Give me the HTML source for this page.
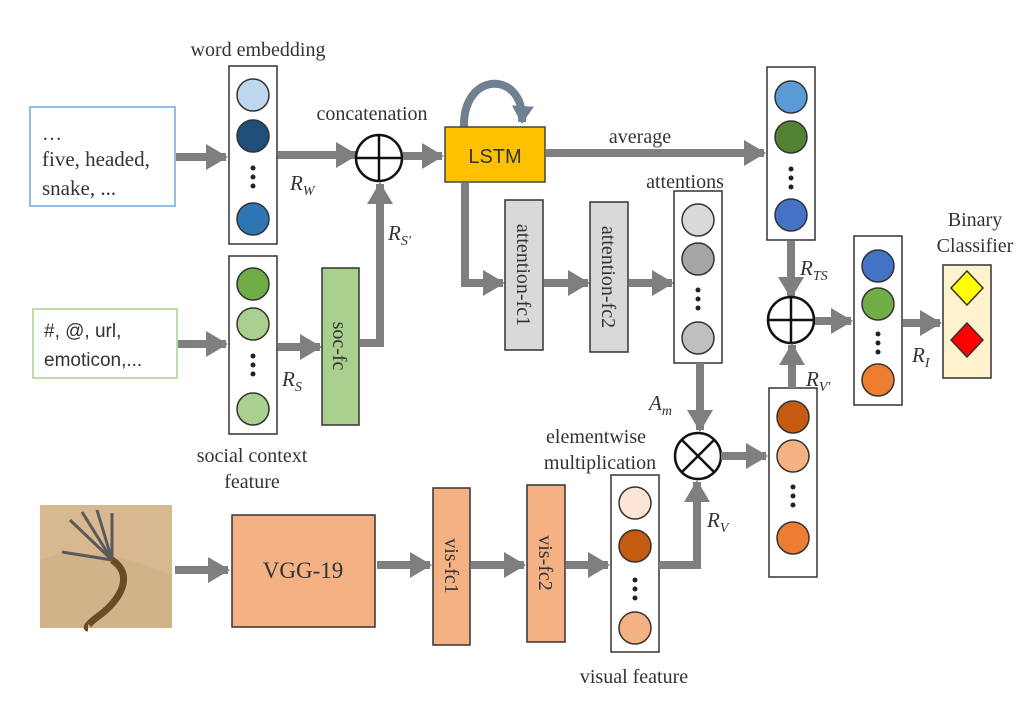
<!DOCTYPE html>
<html><head><meta charset="utf-8"><style>
html,body{margin:0;padding:0;background:#fff;}
svg{display:block;}
.s{font-family:"Liberation Serif",serif;fill:#333;}
.a{font-family:"Liberation Sans",sans-serif;fill:#333;}
.ar{stroke:#7f7f7f;stroke-width:8;fill:none;}
.c{stroke:#333;stroke-width:1.5;}
.box{fill:#fff;stroke:#333;stroke-width:1.5;}
</style></head><body>
<svg width="1030" height="718" viewBox="0 0 1030 718" xmlns="http://www.w3.org/2000/svg">
<defs>
<marker id="h" markerUnits="userSpaceOnUse" markerWidth="24" markerHeight="26" refX="20" refY="13" orient="auto">
<path d="M0,0 L22,13 L0,26 Z" fill="#7f7f7f"/></marker>
<marker id="hb" markerUnits="userSpaceOnUse" markerWidth="22" markerHeight="22" refX="16" refY="11" orient="auto">
<path d="M0,0 L18,11 L0,22 Z" fill="#6f8090"/></marker>
</defs>

<!-- input text boxes -->
<rect x="30" y="107" width="145" height="99" fill="#fff" stroke="#6fa8dc" stroke-width="1.5"/>
<text class="s" x="42" y="140" font-size="20">…</text>
<text class="s" x="42" y="166" font-size="21">five, headed,</text>
<text class="s" x="42" y="195" font-size="21">snake, ...</text>
<rect x="33" y="309" width="144" height="69" fill="#fff" stroke="#a9d08e" stroke-width="1.5"/>
<text class="a" x="44" y="337" font-size="19">#, @, url,</text>
<text class="a" x="44" y="366" font-size="19">emoticon,...</text>

<!-- word embedding -->
<text class="s" x="258" y="56" font-size="20" text-anchor="middle">word embedding</text>
<rect class="box" x="229" y="66" width="48" height="178"/>
<circle class="c" cx="253" cy="95" r="16" fill="#bdd7ee"/>
<circle class="c" cx="253" cy="136" r="16" fill="#1f4e79"/>
<circle cx="253" cy="168" r="2.5" fill="#222"/><circle cx="253" cy="177" r="2.5" fill="#222"/><circle cx="253" cy="186" r="2.5" fill="#222"/>
<circle class="c" cx="253" cy="219" r="16" fill="#2e75b6"/>

<!-- social column -->
<rect class="box" x="229" y="256" width="48" height="178"/>
<circle class="c" cx="253" cy="284" r="16" fill="#70ad47"/>
<circle class="c" cx="253" cy="324" r="16" fill="#a9d08e"/>
<circle cx="253" cy="356" r="2.5" fill="#222"/><circle cx="253" cy="365" r="2.5" fill="#222"/><circle cx="253" cy="374" r="2.5" fill="#222"/>
<circle class="c" cx="253" cy="409" r="16" fill="#a9d08e"/>
<text class="s" x="252" y="462" font-size="20" text-anchor="middle">social context</text>
<text class="s" x="252" y="488" font-size="20" text-anchor="middle">feature</text>

<!-- arrows left -->
<line class="ar" x1="176" y1="157" x2="226" y2="157" marker-end="url(#h)"/>
<line class="ar" x1="178" y1="344" x2="226" y2="344" marker-end="url(#h)"/>
<line class="ar" x1="278" y1="155" x2="356" y2="155" marker-end="url(#h)"/>
<line class="ar" x1="278" y1="347" x2="320" y2="347" marker-end="url(#h)"/>
<text class="s" x="290" y="190" font-size="21" font-style="italic">R<tspan font-size="14" dy="5">W</tspan></text>
<text class="s" x="282" y="386" font-size="21" font-style="italic">R<tspan font-size="14" dy="5">S</tspan></text>

<!-- soc-fc -->
<rect x="322" y="268" width="37" height="157" fill="#a9d08e" stroke="#333" stroke-width="1.5"/>
<text class="s" font-size="20" transform="translate(333,346) rotate(90)" text-anchor="middle">soc-fc</text>
<polyline class="ar" points="360,343 380,343 380,184" marker-end="url(#h)"/>
<text class="s" x="388" y="240" font-size="21" font-style="italic">R<tspan font-size="14" dy="5">S'</tspan></text>

<!-- concat -->
<text class="s" x="372" y="120" font-size="20" text-anchor="middle">concatenation</text>
<circle cx="379" cy="158" r="23" fill="#fff" stroke="#111" stroke-width="2.5"/>
<line x1="356" y1="158" x2="402" y2="158" stroke="#111" stroke-width="2.5"/>
<line x1="379" y1="135" x2="379" y2="181" stroke="#111" stroke-width="2.5"/>
<line class="ar" x1="403" y1="156" x2="442" y2="156" marker-end="url(#h)"/>

<!-- LSTM -->
<path d="M464,128 C462,70 525,70 522,122" stroke="#6f8090" stroke-width="8" fill="none" marker-end="url(#hb)"/>
<rect x="445" y="127" width="100" height="55" fill="#ffc000" stroke="#444" stroke-width="1.5"/>
<text class="a" x="495" y="163" font-size="20" text-anchor="middle">LSTM</text>
<line class="ar" x1="546" y1="153" x2="764" y2="153" marker-end="url(#h)"/>
<text class="s" x="640" y="143" font-size="20" text-anchor="middle">average</text>
<polyline class="ar" points="465,183 465,283 503,283" marker-end="url(#h)"/>

<!-- attention fcs -->
<rect x="505" y="200" width="38" height="150" fill="#d9d9d9" stroke="#333" stroke-width="1.5"/>
<text class="s" font-size="20" transform="translate(517,275) rotate(90)" text-anchor="middle">attention-fc1</text>
<line class="ar" x1="544" y1="283" x2="588" y2="283" marker-end="url(#h)"/>
<rect x="590" y="202" width="38" height="150" fill="#d9d9d9" stroke="#333" stroke-width="1.5"/>
<text class="s" font-size="20" transform="translate(602,277) rotate(90)" text-anchor="middle">attention-fc2</text>
<line class="ar" x1="629" y1="283" x2="672" y2="283" marker-end="url(#h)"/>

<!-- attentions column -->
<text class="s" x="685" y="188" font-size="20" text-anchor="middle">attentions</text>
<rect class="box" x="674" y="191" width="48" height="172"/>
<circle class="c" cx="698" cy="220" r="16" fill="#d9d9d9"/>
<circle class="c" cx="698" cy="259" r="16" fill="#a6a6a6"/>
<circle cx="698" cy="290" r="2.5" fill="#222"/><circle cx="698" cy="299" r="2.5" fill="#222"/><circle cx="698" cy="308" r="2.5" fill="#222"/>
<circle class="c" cx="698" cy="338" r="16" fill="#bfbfbf"/>
<line class="ar" x1="700" y1="363" x2="700" y2="430" marker-end="url(#h)"/>
<text class="s" x="649" y="410" font-size="21" font-style="italic">A<tspan font-size="14" dy="5">m</tspan></text>

<!-- mult -->
<text class="s" x="596" y="443" font-size="20" text-anchor="middle">elementwise</text>
<text class="s" x="600" y="469" font-size="20" text-anchor="middle">multiplication</text>
<circle cx="698" cy="456" r="23" fill="#fff" stroke="#111" stroke-width="2.5"/>
<line x1="682" y1="440" x2="714" y2="472" stroke="#111" stroke-width="2.5"/>
<line x1="714" y1="440" x2="682" y2="472" stroke="#111" stroke-width="2.5"/>
<line class="ar" x1="721" y1="456" x2="766" y2="456" marker-end="url(#h)"/>

<!-- text repr column -->
<rect class="box" x="767" y="67" width="48" height="173"/>
<circle class="c" cx="791" cy="97" r="16" fill="#5b9bd5"/>
<circle class="c" cx="791" cy="137" r="16" fill="#548235"/>
<circle cx="791" cy="169" r="2.5" fill="#222"/><circle cx="791" cy="178" r="2.5" fill="#222"/><circle cx="791" cy="187" r="2.5" fill="#222"/>
<circle class="c" cx="791" cy="215" r="16" fill="#4472c4"/>
<line class="ar" x1="791" y1="241" x2="791" y2="297" marker-end="url(#h)"/>
<text class="s" x="800" y="275" font-size="21" font-style="italic">R<tspan font-size="14" dy="5">TS</tspan></text>

<!-- plus 2 -->
<circle cx="791" cy="320" r="23" fill="#fff" stroke="#111" stroke-width="2.5"/>
<line x1="768" y1="320" x2="814" y2="320" stroke="#111" stroke-width="2.5"/>
<line x1="791" y1="297" x2="791" y2="343" stroke="#111" stroke-width="2.5"/>
<line class="ar" x1="815" y1="321" x2="851" y2="321" marker-end="url(#h)"/>

<!-- visual prime column -->
<rect class="box" x="769" y="388" width="48" height="189"/>
<circle class="c" cx="793" cy="417" r="16" fill="#c55a11"/>
<circle class="c" cx="793" cy="456" r="16" fill="#f4b183"/>
<circle cx="793" cy="487" r="2.5" fill="#222"/><circle cx="793" cy="496" r="2.5" fill="#222"/><circle cx="793" cy="505" r="2.5" fill="#222"/>
<circle class="c" cx="793" cy="538" r="16" fill="#ed7d31"/>
<line class="ar" x1="792" y1="388" x2="792" y2="345" marker-end="url(#h)"/>
<text class="s" x="806" y="386" font-size="21" font-style="italic">R<tspan font-size="14" dy="5">V'</tspan></text>

<!-- final column -->
<rect class="box" x="854" y="236" width="48" height="169"/>
<circle class="c" cx="878" cy="266" r="16" fill="#4472c4"/>
<circle class="c" cx="878" cy="304" r="16" fill="#70ad47"/>
<circle cx="878" cy="334" r="2.5" fill="#222"/><circle cx="878" cy="343" r="2.5" fill="#222"/><circle cx="878" cy="352" r="2.5" fill="#222"/>
<circle class="c" cx="878" cy="380" r="16" fill="#ed7d31"/>
<line class="ar" x1="903" y1="323" x2="940" y2="323" marker-end="url(#h)"/>
<text class="s" x="912" y="362" font-size="21" font-style="italic">R<tspan font-size="14" dy="5">I</tspan></text>

<!-- classifier -->
<text class="s" x="975" y="226" font-size="20" text-anchor="middle">Binary</text>
<text class="s" x="975" y="252" font-size="20" text-anchor="middle">Classifier</text>
<rect x="943" y="265" width="48" height="113" fill="#fff2cc" stroke="#333" stroke-width="1.5"/>
<polygon points="967,271 983,288 967,305 951,288" fill="#ffff00" stroke="#333" stroke-width="1.5"/>
<polygon points="967,323 983,340 967,357 951,340" fill="#ff0000" stroke="#333" stroke-width="1.5"/>

<!-- bottom row: image -->
<rect x="40" y="505" width="132" height="123" fill="#d8b890"/>
<path d="M40,560 Q90,540 172,575 L172,628 L40,628Z" fill="#cfae85" opacity="0.6"/>
<path d="M112,560 C135,575 120,600 100,615 C90,622 85,628 88,628" stroke="#6b4a28" stroke-width="7" fill="none"/>
<g stroke="#5a5a5a" stroke-width="3">
<line x1="112" y1="560" x2="70" y2="520"/><line x1="112" y1="560" x2="82" y2="512"/>
<line x1="112" y1="560" x2="97" y2="510"/><line x1="112" y1="560" x2="112" y2="513"/>
<line x1="112" y1="560" x2="62" y2="552"/></g>
<line class="ar" x1="175" y1="570" x2="228" y2="570" marker-end="url(#h)"/>
<rect x="232" y="515" width="143" height="112" fill="#f4b183" stroke="#333" stroke-width="1.5"/>
<text class="s" x="303" y="578" font-size="23" text-anchor="middle">VGG-19</text>
<line class="ar" x1="377" y1="565" x2="430" y2="565" marker-end="url(#h)"/>
<rect x="433" y="488" width="37" height="157" fill="#f4b183" stroke="#333" stroke-width="1.5"/>
<text class="s" font-size="20" transform="translate(445,566) rotate(90)" text-anchor="middle">vis-fc1</text>
<line class="ar" x1="471" y1="565" x2="524" y2="565" marker-end="url(#h)"/>
<rect x="527" y="485" width="38" height="157" fill="#f4b183" stroke="#333" stroke-width="1.5"/>
<text class="s" font-size="20" transform="translate(539,563) rotate(90)" text-anchor="middle">vis-fc2</text>
<line class="ar" x1="566" y1="565" x2="608" y2="565" marker-end="url(#h)"/>

<!-- visual feature column -->
<rect class="box" x="611" y="475" width="48" height="177"/>
<circle class="c" cx="635" cy="503" r="16" fill="#fbe5d6"/>
<circle class="c" cx="635" cy="546" r="16" fill="#c55a11"/>
<circle cx="635" cy="580" r="2.5" fill="#222"/><circle cx="635" cy="589" r="2.5" fill="#222"/><circle cx="635" cy="598" r="2.5" fill="#222"/>
<circle class="c" cx="635" cy="628" r="16" fill="#f4b183"/>
<text class="s" x="634" y="683" font-size="20" text-anchor="middle">visual feature</text>
<polyline class="ar" points="659,565 697,565 697,482" marker-end="url(#h)"/>
<text class="s" x="707" y="527" font-size="21" font-style="italic">R<tspan font-size="14" dy="5">V</tspan></text>
</svg>
</body></html>
